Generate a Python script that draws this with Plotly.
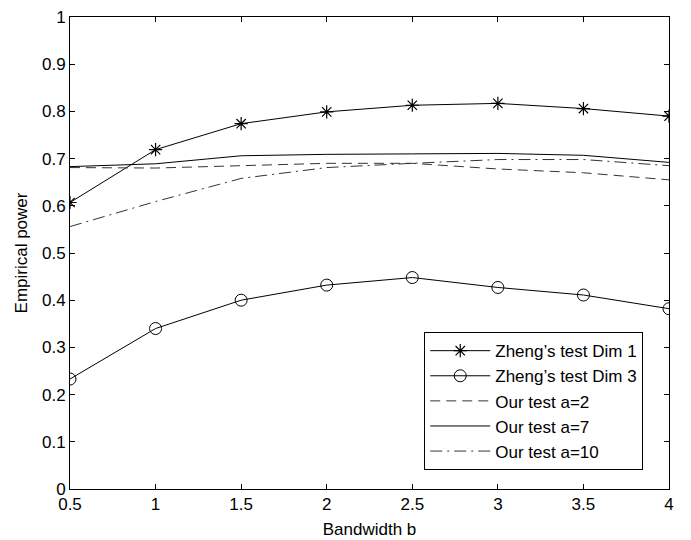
import plotly.graph_objects as go

bandwidth = [0.5, 1.0, 1.5, 2.0, 2.5, 3.0, 3.5, 4.0]
zheng_dim1 = [0.607, 0.719, 0.774, 0.799, 0.813, 0.817, 0.806, 0.790]
zheng_dim3 = [0.233, 0.340, 0.400, 0.432, 0.448, 0.427, 0.411, 0.382]
our_a2 = [0.681, 0.680, 0.685, 0.690, 0.690, 0.678, 0.670, 0.655]
our_a7 = [0.683, 0.689, 0.706, 0.709, 0.710, 0.711, 0.707, 0.692]
our_a10 = [0.556, 0.609, 0.658, 0.681, 0.690, 0.698, 0.698, 0.685]

x_ticks = [0.5, 1, 1.5, 2, 2.5, 3, 3.5, 4]
x_tick_labels = ["0.5", "1", "1.5", "2", "2.5", "3", "3.5", "4"]
y_ticks = [0, 0.1, 0.2, 0.3, 0.4, 0.5, 0.6, 0.7, 0.8, 0.9, 1]
y_tick_labels = ["0", "0.1", "0.2", "0.3", "0.4", "0.5", "0.6", "0.7", "0.8", "0.9", "1"]

FONT = "Liberation Sans, Arial, Helvetica"

fig = go.Figure()
fig.add_trace(go.Scatter(x=bandwidth, y=zheng_dim1, mode="lines+markers",
                         name="Zheng\u2019s test Dim 1",
                         line=dict(color="black", width=1),
                         marker=dict(symbol="asterisk-open", size=11,
                                     line=dict(color="black", width=1.2), color="black")))
fig.add_trace(go.Scatter(x=bandwidth, y=zheng_dim3, mode="lines+markers",
                         name="Zheng\u2019s test Dim 3",
                         line=dict(color="black", width=1),
                         marker=dict(symbol="circle-open", size=12,
                                     line=dict(color="black", width=1), color="black")))
fig.add_trace(go.Scatter(x=bandwidth, y=our_a2, mode="lines", name="Our test a=2",
                         line=dict(color="#333333", width=1, dash="10px,6px")))
fig.add_trace(go.Scatter(x=bandwidth, y=our_a7, mode="lines", name="Our test a=7",
                         line=dict(color="black", width=1)))
fig.add_trace(go.Scatter(x=bandwidth, y=our_a10, mode="lines", name="Our test a=10",
                         line=dict(color="#333333", width=1, dash="12px,5px,2px,5px")))

axis_common = dict(showline=True, linecolor="black", linewidth=1, mirror="ticks",
                   ticks="inside", ticklen=5, tickcolor="black", showgrid=False,
                   zeroline=False, automargin=False,
                   tickfont=dict(family=FONT, size=17, color="black"))

fig.update_layout(
    width=691, height=540,
    margin=dict(l=70, r=22, t=17, b=51),
    paper_bgcolor="white", plot_bgcolor="white",
    font=dict(family=FONT, size=17, color="black"),
    xaxis=dict(range=[0.5, 4], tickvals=x_ticks, ticktext=x_tick_labels,
               title=dict(text="Bandwidth b", font=dict(size=17), standoff=9), **axis_common),
    yaxis=dict(range=[0, 1], tickvals=y_ticks, ticktext=y_tick_labels,
               title=dict(text="Empirical power", font=dict(size=17), standoff=10), **axis_common),
    legend=dict(x=0.957, y=0.04, xanchor="right", yanchor="bottom",
                bordercolor="black", borderwidth=1, bgcolor="white",
                font=dict(size=17), tracegroupgap=0, itemwidth=60),
    showlegend=True,
)

fig.write_html("out.html")
